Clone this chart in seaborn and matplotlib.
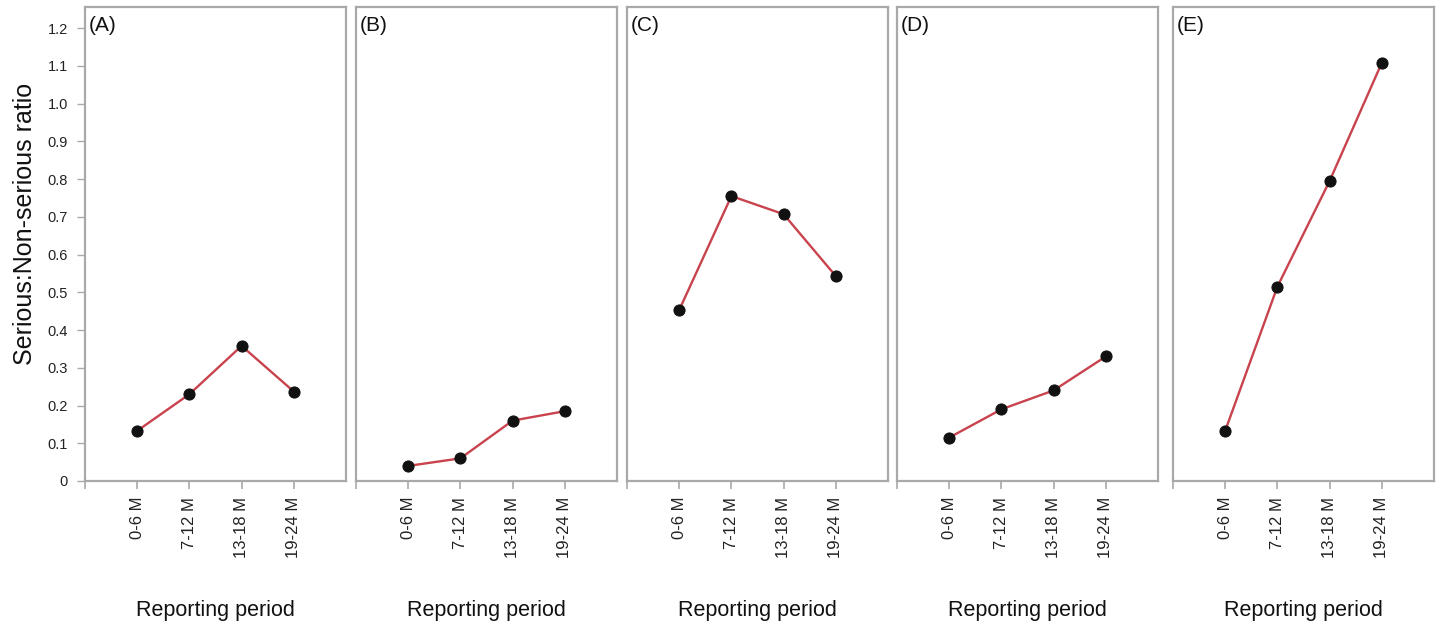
import matplotlib
matplotlib.use("Agg")
import matplotlib.pyplot as plt
import seaborn as sns
import pandas as pd

sns.set_theme(style="white")
plt.rcParams['font.family'] = ['Liberation Sans', 'DejaVu Sans']

periods = ["0-6 M", "7-12 M", "13-18 M", "19-24 M"]
panel_labels = ["(A)", "(B)", "(C)", "(D)", "(E)"]
ratio_A = [0.133, 0.230, 0.358, 0.237]
ratio_B = [0.040, 0.060, 0.160, 0.185]
ratio_C = [0.453, 0.755, 0.707, 0.543]
ratio_D = [0.115, 0.190, 0.240, 0.330]
ratio_E = [0.133, 0.515, 0.795, 1.108]
series = [ratio_A, ratio_B, ratio_C, ratio_D, ratio_E]
y_ticks = [0, 0.1, 0.2, 0.3, 0.4, 0.5, 0.6, 0.7, 0.8, 0.9, 1.0, 1.1, 1.2]
y_ticklabels = ["0", "0.1", "0.2", "0.3", "0.4", "0.5", "0.6", "0.7", "0.8", "0.9", "1.0", "1.1", "1.2"]

W, H = 1440, 622
fig = plt.figure(figsize=(W / 100, H / 100), dpi=100)
lefts = [85, 356, 627, 897, 1173]
box_w = 261
top_px, bot_px = 7, 481

frame = "#a9a9a9"
line_red = "#c8434d"

for i, (lab, vals) in enumerate(zip(panel_labels, series)):
    ax = fig.add_axes([lefts[i] / W, 1 - bot_px / H, box_w / W, (bot_px - top_px) / H])
    df = pd.DataFrame({"pos": list(range(len(periods))), "ratio": vals})
    sns.lineplot(data=df, x="pos", y="ratio", ax=ax, color=line_red, linewidth=1.7,
                 marker="o", markersize=8, markerfacecolor="#111111",
                 markeredgecolor="#111111", zorder=3)
    ax.set_xlim(-1, 4)
    ax.set_ylim(0, 1.256)
    ax.set_xticks([-1, 0, 1, 2, 3])
    ax.set_xticklabels([""] + periods, rotation=90, fontsize=12, color="#222222")
    ax.tick_params(axis="x", length=5.5, width=1.2, color=frame, pad=6, bottom=True)
    for s in ax.spines.values():
        s.set_color(frame)
        s.set_linewidth(1.6)
    if i == 0:
        ax.set_yticks(y_ticks)
        ax.set_yticklabels(y_ticklabels, fontsize=10.5, color="#222222")
        ax.tick_params(axis="y", length=5.8, width=1.0, color=frame, left=True, pad=6.5)
        ax.set_ylabel("Serious:Non-serious ratio", fontsize=18, color="#111111")
        ax.yaxis.set_label_coords(-0.184, 0.542)
    else:
        ax.set_yticks([])
        ax.set_ylabel("")
    ax.set_xlabel("Reporting period", fontsize=15.5, labelpad=30, color="#111111")
    ax.text(0.015, 0.98, lab, transform=ax.transAxes, ha="left", va="top",
            fontsize=15, color="#111111")

fig.savefig("out.png", dpi=100)
